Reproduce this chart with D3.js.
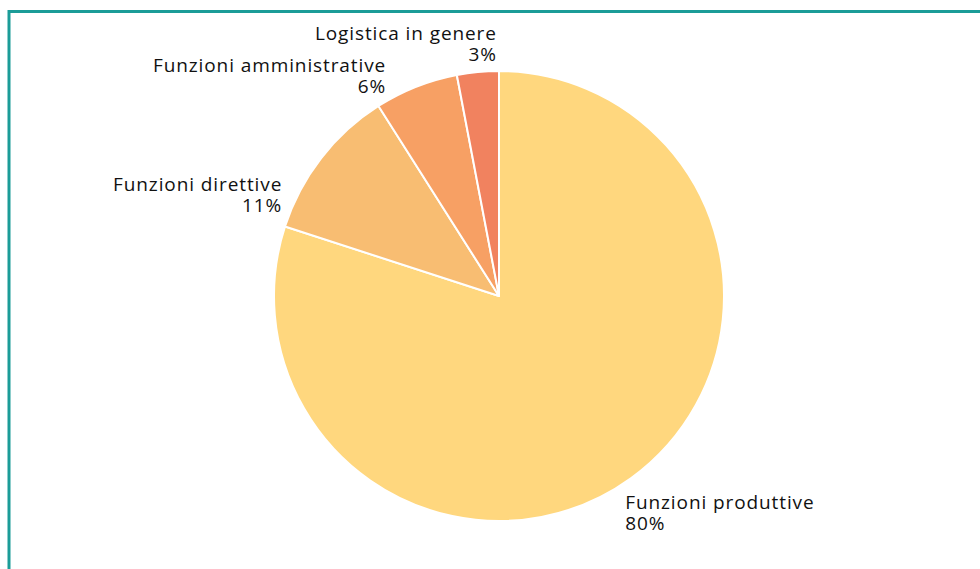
<!DOCTYPE html>
<html>
<head>
<meta charset="utf-8">
<script src="https://cdn.jsdelivr.net/npm/d3@7"></script>
<style>
  html, body { margin: 0; padding: 0; background: #fff; }
  svg { display: block; }
  .lbl { font-family: "Open Sans", sans-serif; font-size: 19px; letter-spacing: 0.9px; fill: #111; }
</style>
</head>
<body>
<svg id="chart"></svg>
<script>
const width = 980, height = 569;

const categories = ["Funzioni produttive", "Funzioni direttive", "Funzioni amministrative", "Logistica in genere"];
const values = [80, 11, 6, 3];
const colors = ["#FFD77E", "#F8BD72", "#F7A064", "#F1825F"];
// label nudges relative to the slice's outer edge at mid-angle
const labelNudge = [[-6, 31, "start"], [-39, 33, "end"], [-30, -15, "end"], [19, -32, "end"]];

const svg = d3.select("#chart").attr("width", width).attr("height", height);

// frame: teal lines on top and left only
svg.append("path")
    .attr("d", "M9," + height + " V11.5 H" + width)
    .attr("fill", "none")
    .attr("stroke", "#1B9C98")
    .attr("stroke-width", 3);

const cx = 499, cy = 296, radius = 225;

const data = categories.map((c, i) => ({name: c, value: values[i], color: colors[i], nudge: labelNudge[i]}));

const pie = d3.pie().sort(null).value(d => d.value);
const arc = d3.arc().innerRadius(0).outerRadius(radius);
const edgeArc = d3.arc().innerRadius(radius).outerRadius(radius);

const g = svg.append("g").attr("transform", `translate(${cx},${cy})`);
const arcs = pie(data);

g.selectAll(".slice")
    .data(arcs)
    .enter().append("path")
    .attr("class", "slice")
    .attr("d", arc)
    .attr("fill", d => d.data.color)
    .attr("stroke", "#fff")
    .attr("stroke-width", 2)
    .attr("stroke-linejoin", "round");

const labels = g.selectAll(".lbl")
    .data(arcs)
    .enter().append("text")
    .attr("class", "lbl")
    .attr("text-anchor", d => d.data.nudge[2])
    .attr("transform", d => {
        const [x, y] = edgeArc.centroid(d);
        return `translate(${x + d.data.nudge[0]},${y + d.data.nudge[1]})`;
    });

labels.append("tspan").attr("x", 0).attr("y", 0).text(d => d.data.name);
labels.append("tspan").attr("x", 0).attr("y", 21)
    .text(d => Math.round(d.data.value / d3.sum(values) * 100) + "%");
</script>
</body>
</html>
